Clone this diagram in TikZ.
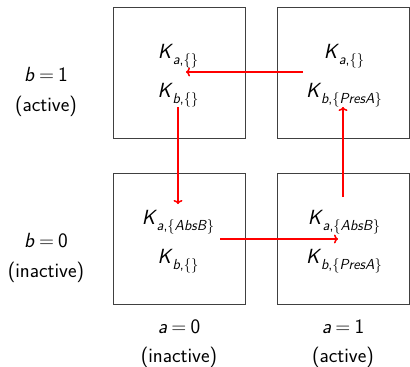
\documentclass[tikz,border=0pt]{standalone}
\usepackage{fontspec}
\usetikzlibrary{arrows.meta}
\newcommand\KK[2]{\textit{K}\kern-0.02em\raisebox{-0.3em}{\fontsize{14.5}{16}\selectfont\textit{#1},\{\textit{#2}\}}}
\newcommand\VV[2]{\textit{#1}\kern0.2em=\kern0.2em#2}
\begin{document}
\begin{tikzpicture}[x=1pt,y=-1pt,
  cell/.style={draw=black!75,line width=0.9pt,minimum width=132pt,minimum height=131pt,inner sep=0pt},
  lbl/.style={anchor=base,inner sep=0pt,font=\fontsize{20.5}{23}\selectfont\sffamily},
  flow/.style={draw=red,line width=1.5pt,-{To[length=4pt,width=9pt]}}]
\useasboundingbox (0,0) rectangle (410,367);
\node[cell] (tl) at (179,72.5) {};
\node[cell] (tr) at (343,72.5) {};
\node[cell] (bl) at (179,239) {};
\node[cell] (br) at (343,239) {};
% texts
\node[lbl] (tla) at (178,58) {\KK{a}{}};
\node[lbl] (tlb) at (178,97) {\KK{b}{}};
\node[lbl] (tra) at (344,58) {\KK{a}{}};
\node[lbl] (trb) at (344,97) {\KK{b}{PresA}};
\node[lbl] (bla) at (178,224) {\KK{a}{AbsB}};
\node[lbl] (blb) at (178,263) {\KK{b}{}};
\node[lbl] (bra) at (344,224) {\KK{a}{AbsB}};
\node[lbl] (brb) at (344,263) {\KK{b}{PresA}};
% side labels
\node[lbl] (b1) at (46,81) {\VV{b}{1}};
\node[lbl] (b1t) at (46,111) {(active)};
\node[lbl] (b0) at (46,247) {\VV{b}{0}};
\node[lbl] (b0t) at (46,277) {(inactive)};
\node[lbl] (a0) at (179,333) {\VV{a}{0}};
\node[lbl] (a0t) at (179,362) {(inactive)};
\node[lbl] (a1) at (343,333) {\VV{a}{1}};
\node[lbl] (a1t) at (343,362) {(active)};
% arrow ends
\coordinate (p1s) at (303,72);
\coordinate (p1e) at (186,72);
\coordinate (p2s) at (178,107);
\coordinate (p2e) at (178,204);
\coordinate (p3s) at (220,239);
\coordinate (p3e) at (338,239);
\coordinate (p4s) at (343,197);
\coordinate (p4e) at (343,107);
\draw[flow] (p1s) -- (p1e);
\draw[flow] (p2s) -- (p2e);
\draw[flow] (p3s) -- (p3e);
\draw[flow] (p4s) -- (p4e);
\end{tikzpicture}
\end{document}
